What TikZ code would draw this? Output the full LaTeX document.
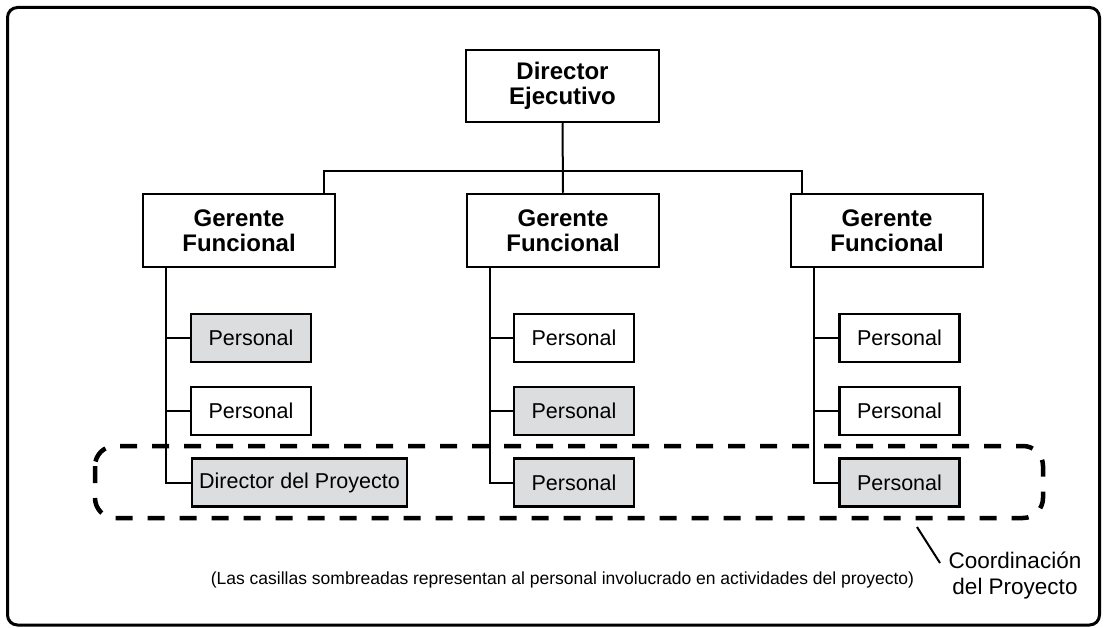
\documentclass[tikz,border=0pt]{standalone}
\usepackage{fontspec}
\setmainfont{Liberation Sans}
\begin{document}
\begin{tikzpicture}[x=1pt,y=-1pt,
  boldbox/.style={draw,line width=2.5pt,fill=white,inner sep=0pt,align=center,
    font=\fontsize{24}{27}\selectfont\bfseries,minimum width=192pt,minimum height=73pt},
  staff/.style={draw,line width=2.5pt,inner sep=0pt,font=\fontsize{21.5}{25}\selectfont,
    minimum width=120pt,minimum height=48pt},
  shaded/.style={staff,fill=shade},
  plain/.style={staff,fill=white},
  conn/.style={line width=2pt},
]
\definecolor{shade}{RGB}{220,221,223}
\useasboundingbox (0,0) rectangle (1107,628);
\draw[line width=3pt,rounded corners=10pt] (7.5,7.5) rectangle (1099.5,625);

% top
\node[boldbox,minimum width=193pt,minimum height=72pt] (dir) at (562.5,86) {Director\\[-2pt]Ejecutivo};
\node[boldbox] (gl) at (239,230.5) {Gerente\\[-2pt]Funcional};
\node[boldbox] (gm) at (563,230.5) {Gerente\\[-2pt]Funcional};
\node[boldbox] (gr) at (887,230.5) {Gerente\\[-2pt]Funcional};
\coordinate (bus) at (563,171);
\draw[conn] (dir.south) -- (gm.north);
\draw[conn] ([xshift=-12pt]gl.north east) |- (bus) -| ([xshift=12pt]gr.north west);

% left column
\node[shaded] (l1) at (251,338) {Personal};
\node[plain] (l2) at (251,411) {Personal};
\node[shaded,minimum width=215pt] (l3) at (299.5,482.5) {Director del Proyecto};
% middle column
\node[plain] (m1) at (574,338) {Personal};
\node[shaded] (m2) at (574,411) {Personal};
\node[shaded] (m3) at (574,482.5) {Personal};
% right column
\node[plain] (r1) at (899.5,338) {Personal};
\node[plain] (r2) at (899.5,411) {Personal};
\node[shaded] (r3) at (899.5,482.5) {Personal};

\foreach \g/\a in {gl/l,gm/m,gr/r}{
  \coordinate (\a v) at ([xshift=24pt]\g.south west);
  \draw[conn] (\a v) |- (\a 3.west);
  \draw[conn] (\a 1.west) -- (\a 1.west -| \a v);
  \draw[conn] (\a 2.west) -- (\a 2.west -| \a v);
}

% project coordination
\draw[line width=4.5pt,dash pattern=on 17pt off 15pt,rounded corners=20pt] (95,446) rectangle (1043,518);
\coordinate (cs) at (917,527);
\node[font=\fontsize{22.5}{26}\selectfont,align=center] (coord) at (1015,576) {Coordinación\\del Proyecto};
\draw[conn] (cs) -- (940,563);

\node[font=\fontsize{17.5}{20}\selectfont] (note) at (562.5,580) {(Las casillas sombreadas representan al personal involucrado en actividades del proyecto)};
\end{tikzpicture}
\end{document}
